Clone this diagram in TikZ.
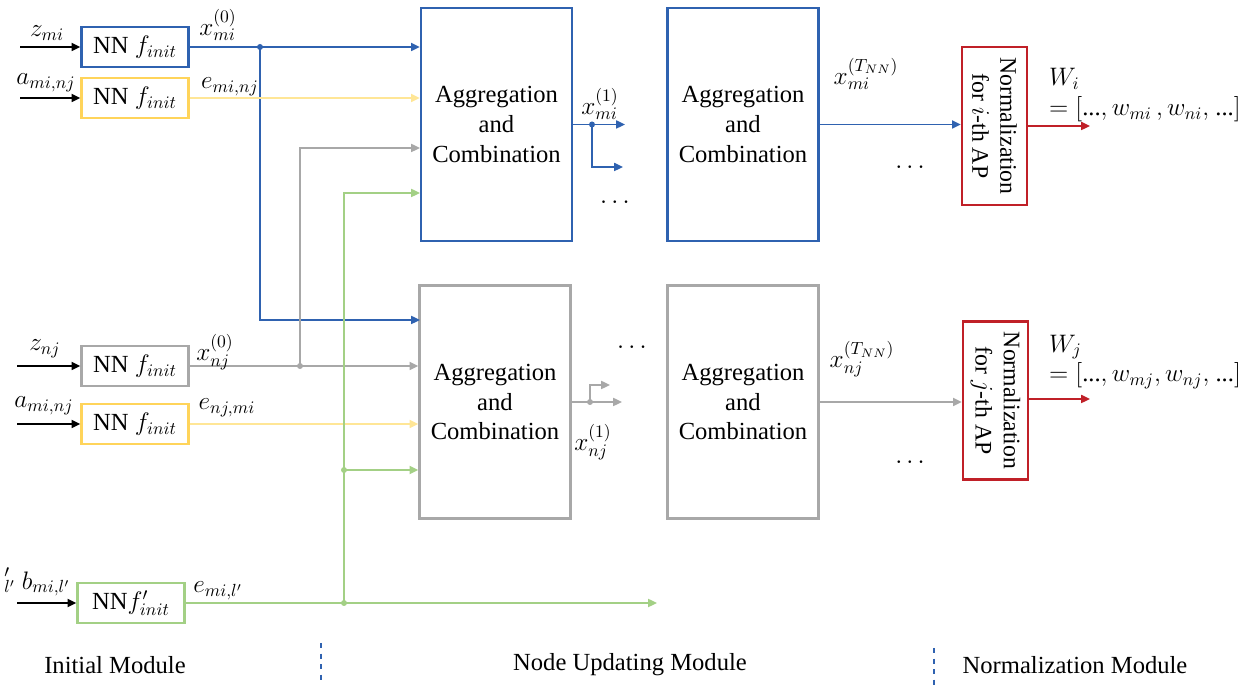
\documentclass[tikz,border=0pt]{standalone}
\usepackage{fontspec}
\setmainfont{Liberation Serif}
\usetikzlibrary{arrows.meta}

\definecolor{nblue}{RGB}{47,98,176}
\definecolor{nyellow}{RGB}{255,212,90}
\definecolor{lyellow}{RGB}{255,230,150}
\definecolor{ngray}{RGB}{168,168,168}
\definecolor{ngreen}{RGB}{163,208,133}
\definecolor{nred}{RGB}{192,32,40}

\tikzset{
    nnbox/.style={draw, line width=1.3pt, minimum width=2.14cm, minimum height=0.8cm, inner sep=0pt},
    aggbox/.style={draw, line width=1.3pt, minimum width=3.02cm, minimum height=4.66cm, align=center, inner sep=0pt},
    normbox/.style={draw=nred, line width=1.3pt, rotate=-90, minimum width=3.16cm, minimum height=1.3cm, align=center, inner sep=0pt, font=\fontsize{13.5}{16}\selectfont},
    link/.style={line width=1.1pt, -{Triangle[length=5pt,width=4.5pt]}},
    junction/.style={circle, fill, inner sep=0pt, minimum size=0.12cm},
    lbl/.style={inner sep=1pt}
}

\begin{document}
\begin{tikzpicture}[x=0.02cm, y=-0.02cm, font=\fontsize{14}{17}\selectfont]
    \useasboundingbox (0, 0) rectangle (1255, 685);

    % initial module
    \node[nnbox, draw=nblue] (nnzm) at (135, 47) {NN $f_{init}$};
    \node[nnbox, draw=nyellow] (nnam) at (135, 98) {NN $f_{init}$};
    \node[nnbox, draw=ngray] (nnzn) at (135, 366) {NN $f_{init}$};
    \node[nnbox, draw=nyellow] (nnan) at (135, 424) {NN $f_{init}$};
    \node[nnbox, draw=ngreen] (nnb) at (131, 603) {NN$f'_{init}$};

    \coordinate (inzm) at (20, 47);
    \coordinate (inam) at (20, 98);
    \coordinate (inzn) at (17, 366);
    \coordinate (inan) at (17, 424);
    \coordinate (inb) at (17, 603);
    \draw[link] (inzm) -- (nnzm.west);
    \draw[link] (inam) -- (nnam.west);
    \draw[link] (inzn) -- (nnzn.west);
    \draw[link] (inan) -- (nnan.west);
    \draw[link] (inb) -- (nnb.west);

    \node[lbl] (lzm) at (47, 33) {$z_{mi}$};
    \node[lbl] (lam) at (46, 83) {$a_{mi,nj}$};
    \node[lbl] (lzn) at (45, 349) {$z_{nj}$};
    \node[lbl] (lan) at (44, 406) {$a_{mi,nj}$};
    \node[lbl] (lb) at (46, 584) {$b_{mi,l'}$};
    \node[lbl] (lbcut) at (10, 580) {${}'_{l'}$};

    % node updating module
    \node[aggbox, draw=nblue] (agg1) at (496.5, 124.5) {Aggregation\\and\\Combination};
    \node[aggbox, draw=nblue] (agg2) at (743, 124.5) {Aggregation\\and\\Combination};
    \node[aggbox, draw=ngray] (agg3) at (495, 402) {Aggregation\\and\\Combination};
    \node[aggbox, draw=ngray] (agg4) at (743, 402) {Aggregation\\and\\Combination};

    % blue: x_mi^(0)
    \coordinate (bsplit) at (260, 47);
    \coordinate (bin3) at (420, 320);
    \draw[link, nblue] (nnzm.east) -- (agg1.west |- nnzm.east);
    \draw[link, nblue] (bsplit) |- (bin3);
    \node[junction, nblue] (bdot) at (bsplit) {};
    \node[lbl] (lxm0) at (218, 25) {$x_{mi}^{(0)}$};

    % yellow: e
    \draw[link, lyellow] (nnam.east) -- (agg1.west |- nnam.east);
    \draw[link, lyellow] (nnan.east) -- (agg3.west |- nnan.east);
    \node[lbl] (lem) at (230, 87) {$e_{mi,nj}$};
    \node[lbl] (len) at (227, 408) {$e_{nj,mi}$};

    % gray: x_nj^(0)
    \coordinate (gsplit) at (300, 366);
    \coordinate (gin1) at (420, 148);
    \draw[link, ngray] (nnzn.east) -- (agg3.west |- nnzn.east);
    \draw[link, ngray] (gsplit) |- (gin1);
    \node[junction, ngray] (gdot) at (gsplit) {};
    \node[lbl] (lxn0) at (215, 352) {$x_{nj}^{(0)}$};

    % green: e_mi,l'
    \coordinate (grsplit) at (344, 603);
    \coordinate (grsplit2) at (344, 470);
    \coordinate (grin1) at (420, 193);
    \coordinate (grend) at (657, 603);
    \draw[link, ngreen] (nnb.east) -- (grend);
    \draw[link, ngreen] (grsplit) |- (grin1);
    \draw[link, ngreen] (grsplit2) -- (agg3.west |- grsplit2);
    \node[junction, ngreen] (grdot) at (grsplit) {};
    \node[junction, ngreen] (grdot2) at (grsplit2) {};
    \node[lbl] (leb) at (218, 591) {$e_{mi,l'}$};

    % outputs of the first layer
    \coordinate (o1end) at (625, 124.5);
    \coordinate (o1split) at (592, 124.5);
    \coordinate (o1b) at (623, 167);
    \draw[link, nblue] (agg1.east) -- (o1end);
    \draw[link, nblue] (o1split) |- (o1b);
    \node[junction, nblue] (o1dot) at (o1split) {};
    \node[lbl] (lxm1) at (600, 104) {$x_{mi}^{(1)}$};
    \node (dots1) at (615, 203) {$\cdots$};

    \coordinate (o3end) at (622, 402);
    \coordinate (o3split) at (590, 402);
    \coordinate (o3b) at (610, 385);
    \draw[link, ngray] (agg3.east) -- (o3end);
    \draw[link, ngray] (o3split) |- (o3b);
    \node[junction, ngray] (o3dot) at (o3split) {};
    \node[lbl] (lxn1) at (593, 442) {$x_{nj}^{(1)}$};
    \node (dots3) at (632, 348) {$\cdots$};

    % normalization module (rotated: south = left side, north = right side)
    \node[normbox] (norm1) at (994.5, 126) {Normalization\\for $i$-th AP};
    \node[normbox] (norm2) at (995.5, 400.5) {Normalization\\for $j$-th AP};

    \draw[link, nblue] (agg2.east) -- (norm1.south |- agg2.east);
    \draw[link, ngray] (agg4.east) -- (norm2.south |- agg4.east);
    \node[lbl] (lxmT) at (866, 74) {$x_{mi}^{(T_{NN})}$};
    \node[lbl] (lxnT) at (862, 359) {$x_{nj}^{(T_{NN})}$};
    \node (dots2) at (910, 168) {$\cdots$};
    \node (dots4) at (910, 463) {$\cdots$};

    \coordinate (w1end) at (1090, 126);
    \coordinate (w2end) at (1090, 399);
    \draw[link, nred] (norm1.north) -- (w1end);
    \draw[link, nred] (norm2.north |- w2end) -- (w2end);
    \node[lbl, anchor=west, align=left] (lwi) at (1047, 95) {$W_i$\\$=[$...$,w_{mi}\,,w_{ni},$ ...$]$};
    \node[lbl, anchor=west, align=left] (lwj) at (1047, 362) {$W_j$\\$=[$...$,w_{mj},w_{nj},$ ...$]$};

    % module captions
    \node (capinit) at (115, 665) {Initial Module};
    \node (capnode) at (630, 665) {Node Updating Module};
    \node (capnorm) at (1075, 665) {Normalization Module};
    \coordinate (sep1a) at (321, 643);
    \coordinate (sep1b) at (321, 685);
    \coordinate (sep2a) at (934, 648);
    \coordinate (sep2b) at (934, 685);
    \draw[nblue, line width=0.9pt, dashed] (sep1a) -- (sep1b);
    \draw[nblue, line width=0.9pt, dashed] (sep2a) -- (sep2b);
\end{tikzpicture}
\end{document}
